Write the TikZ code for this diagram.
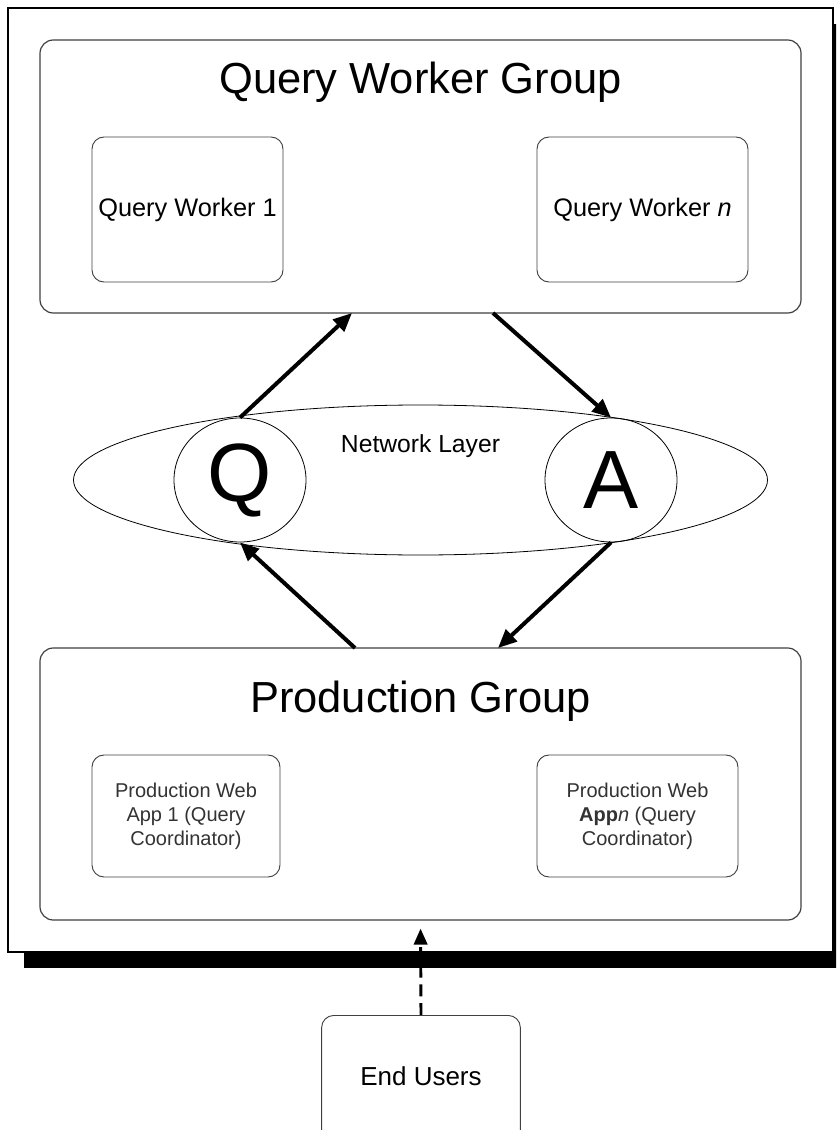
\documentclass[tikz,border=0pt]{standalone}
\usepackage{fontspec}
\setmainfont{Liberation Sans}
\usetikzlibrary{shapes.geometric,arrows.meta}

\tikzset{
  group/.style={draw=black!75, line width=0.9pt, rounded corners=10pt, inner sep=0pt},
  member/.style={draw=black!75, line width=0.7pt, rounded corners=9pt, align=center, inner sep=0pt},
  flow/.style={line width=3pt, -{Triangle[length=14pt,width=12pt]}},
}

\begin{document}
\begin{tikzpicture}[x=0.75pt, y=-0.75pt]
  \clip (0,0) rectangle (836,1130);
  % frame with shadow
  \fill[black] (24,24) rectangle (860,968);
  \filldraw[fill=white, draw=black, line width=0.8pt] (8,8) rectangle (833,952);

  % query worker group
  \node[group, minimum width=570.75pt, minimum height=204.75pt] (qwg) at (420.5,176.5) {};
  \node[font=\fontsize{32.6}{38}\selectfont] (qwgtitle) at (420.5,82) {Query Worker Group};
  \node[member, minimum width=143.25pt, minimum height=108.75pt, font=\fontsize{19}{23}\selectfont] (qw1) at (187.5,209.5) {Query Worker 1};
  \node[member, minimum width=158.25pt, minimum height=108.75pt, font=\fontsize{19}{23}\selectfont] (qwn) at (642.5,209.5) {Query Worker \textit{n}};

  % network layer
  \node[draw, ellipse, line width=0.6pt, minimum width=520.5pt, minimum height=112.5pt] (net) at (420.5,480) {};
  \node[font=\fontsize{18.5}{22}\selectfont] (nettitle) at (420.5,446) {Network Layer};
  \node[draw, ellipse, line width=0.6pt, minimum width=99pt, minimum height=93pt, inner sep=0pt, font=\fontsize{62}{70}\selectfont] (q) at (240,480) {Q};
  \node[draw, ellipse, line width=0.6pt, minimum width=99pt, minimum height=93pt, inner sep=0pt, font=\fontsize{62}{70}\selectfont] (a) at (611,480) {A};

  % production group
  \node[group, minimum width=570.75pt, minimum height=204pt] (pg) at (420.5,784) {};
  \node[font=\fontsize{32.6}{38}\selectfont] (pgtitle) at (420.5,701) {Production Group};
  \node[member, minimum width=141pt, minimum height=91.5pt, font=\fontsize{15}{18}\selectfont, text=black!80] (pw1) at (186,816) {Production Web\\App 1 (Query\\Coordinator)};
  \node[member, minimum width=150.75pt, minimum height=91.5pt, font=\fontsize{15}{18}\selectfont, text=black!80] (pwn) at (637.5,816) {Production Web\\\textbf{App}\textit{n} (Query\\Coordinator)};

  % end users
  \node[member, minimum width=149pt, minimum height=110pt, anchor=north] (users) at (421,1015) {};
  \node[font=\fontsize{19.5}{23}\selectfont] (userstitle) at (421,1076) {End Users};

  % border points
  \coordinate (qin) at (352,313);
  \coordinate (aout) at (493,313);
  \coordinate (pout) at (355,648);
  \coordinate (pin) at (498,648);

  \draw[flow] (q.north) -- (qin);
  \draw[flow] (aout) -- (a.north);
  \draw[flow] (pout) -- (q.south);
  \draw[flow] (a.south) -- (pin);
  \draw[line width=2.2pt, dash pattern=on 9pt off 5pt, -{Triangle[length=12pt,width=10pt]}, shorten >=6pt] (users.north) -- (pg.south);
\end{tikzpicture}
\end{document}
